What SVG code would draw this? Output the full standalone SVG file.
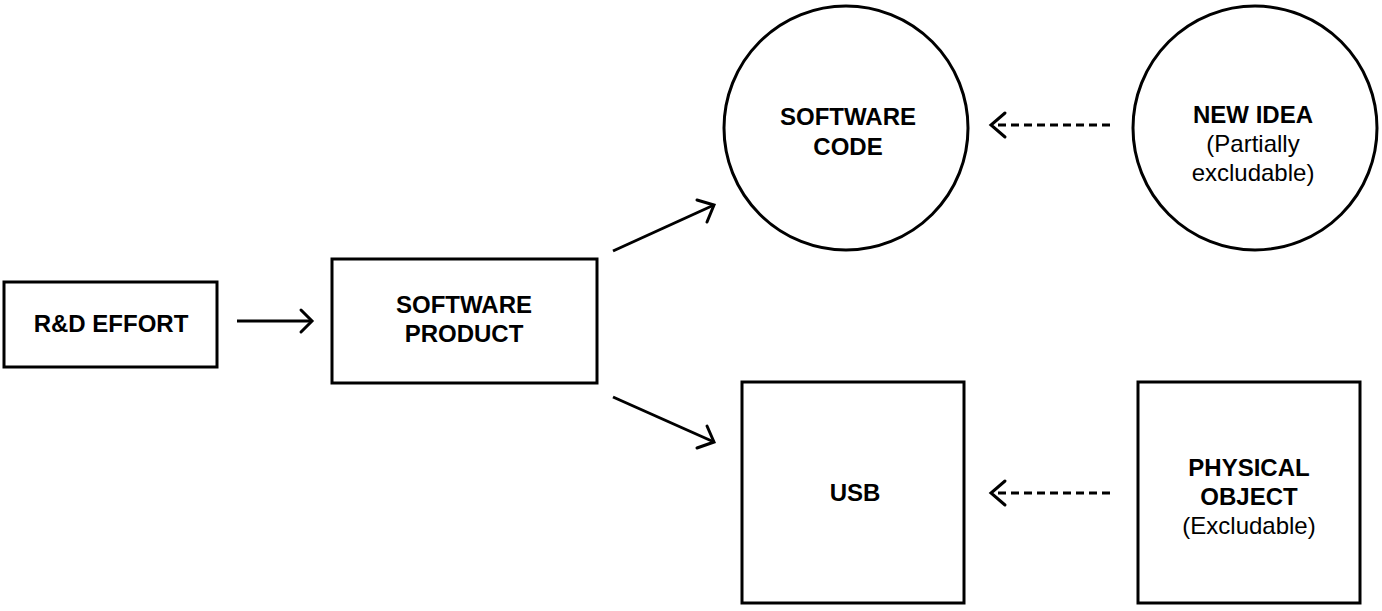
<svg xmlns="http://www.w3.org/2000/svg" width="1382" height="611" viewBox="0 0 1382 611">
<style>
.shape{fill:#fff;stroke:#000;stroke-width:3}
.b{font-family:"Liberation Sans",Arial,sans-serif;font-size:24px;font-weight:bold;text-anchor:middle;fill:#000}
.r{font-family:"Liberation Sans",Arial,sans-serif;font-size:24px;text-anchor:middle;fill:#000}
.line{fill:none;stroke:#000;stroke-width:3}
.dash{fill:none;stroke:#000;stroke-width:3;stroke-dasharray:8 5}
.head{fill:none;stroke:#000;stroke-width:3;stroke-linecap:round;stroke-linejoin:miter}
</style>
<rect width="1382" height="611" fill="#fff"/>
<g id="rd-effort">
<rect class="shape" x="4" y="282" width="213" height="85"/>
<text class="b" x="111" y="332">R&amp;D EFFORT</text>
</g>
<g id="software-product">
<rect class="shape" x="332" y="259" width="265" height="124"/>
<text class="b" x="464" y="313">SOFTWARE</text>
<text class="b" x="464" y="342">PRODUCT</text>
</g>
<g id="software-code">
<circle class="shape" cx="846" cy="128" r="122"/>
<text class="b" x="848" y="125">SOFTWARE</text>
<text class="b" x="848" y="155">CODE</text>
</g>
<g id="new-idea">
<circle class="shape" cx="1255" cy="128" r="122"/>
<text class="b" x="1253" y="123">NEW IDEA</text>
<text class="r" x="1253" y="152">(Partially</text>
<text class="r" x="1253" y="181">excludable)</text>
</g>
<g id="usb">
<rect class="shape" x="742" y="382" width="222" height="221"/>
<text class="b" x="855" y="501">USB</text>
</g>
<g id="physical-object">
<rect class="shape" x="1138" y="382" width="222" height="221"/>
<text class="b" x="1249" y="476">PHYSICAL</text>
<text class="b" x="1249" y="505">OBJECT</text>
<text class="r" x="1249" y="534">(Excludable)</text>
</g>
<g id="connectors">
<line class="line" x1="237" y1="321" x2="312" y2="321"/>
<polyline class="head" points="301,310 312,321 301,332"/>
<line class="line" x1="613" y1="251" x2="714" y2="205"/>
<polyline class="head" points="697,200 714,205 707,222"/>
<line class="line" x1="613" y1="397" x2="714" y2="442"/>
<polyline class="head" points="707,426 714,442 697,448"/>
<line class="dash" x1="1110" y1="125" x2="992" y2="125"/>
<polyline class="head" points="1005,113 991,125 1005,137"/>
<line class="dash" x1="1110" y1="493" x2="992" y2="493"/>
<polyline class="head" points="1005,481 991,493 1005,505"/>
</g>
</svg>
